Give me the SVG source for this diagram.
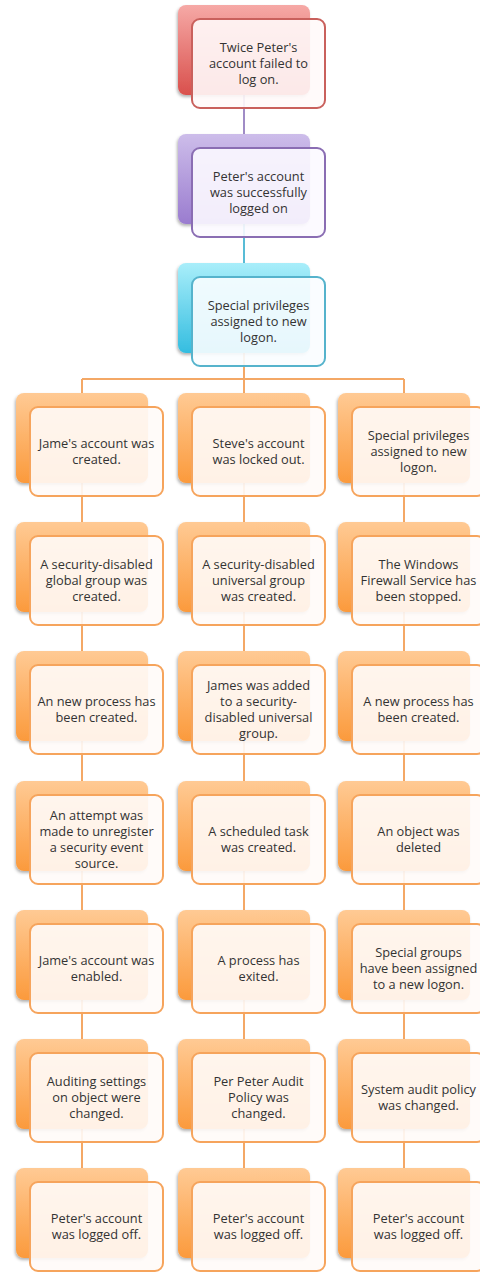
<svg xmlns="http://www.w3.org/2000/svg" width="480" height="1272" viewBox="0 0 480 1272">
  <defs>
    <linearGradient id="gRed" x1="0" y1="0" x2="0" y2="1">
      <stop offset="0" stop-color="#f6a9a6"/>
      <stop offset="1" stop-color="#d9504c"/>
    </linearGradient>
    <linearGradient id="gPurple" x1="0" y1="0" x2="0" y2="1">
      <stop offset="0" stop-color="#cdbdea"/>
      <stop offset="1" stop-color="#9a7ccf"/>
    </linearGradient>
    <linearGradient id="gCyan" x1="0" y1="0" x2="0" y2="1">
      <stop offset="0" stop-color="#a9eefa"/>
      <stop offset="1" stop-color="#34bde0"/>
    </linearGradient>
    <linearGradient id="gOrange" x1="0" y1="0" x2="0" y2="1">
      <stop offset="0" stop-color="#ffca94"/>
      <stop offset="1" stop-color="#fb9a3c"/>
    </linearGradient>
    <filter id="shadow" x="-10%" y="-10%" width="125%" height="130%">
      <feDropShadow dx="-1" dy="2" stdDeviation="1.5" flood-color="#000" flood-opacity="0.3"/>
    </filter>
  </defs>
  <style>
    .back { filter: url(#shadow); }
    .front { fill-opacity: 0.9; stroke-width: 2; }
    .red .back { fill: url(#gRed); }
    .red .front { stroke: #c9605c; fill: #fffafa; }
    .purple .back { fill: url(#gPurple); }
    .purple .front { stroke: #8a6db3; fill: #fcfaff; }
    .cyan .back { fill: url(#gCyan); }
    .cyan .front { stroke: #55b3cc; fill: #f9fdff; }
    .orange .back { fill: url(#gOrange); }
    .orange .front { stroke: #f6a45c; fill: #fffbf8; }
    text { font-family: "Open Sans", "Liberation Sans", sans-serif; font-size: 12.8px; fill: #333333; text-anchor: middle; }
    .conn line, .conn path { fill: none; stroke-width: 2; }
  </style>

  <!-- connectors -->
  <g id="connectors" class="conn">
    <line x1="244" y1="50" x2="244" y2="134" stroke="#a08cc6"/>
    <line x1="244" y1="180" x2="244" y2="263" stroke="#58bcd6"/>
    <path d="M244 308 V379 M82 379 H404 M82 379 V393 M404 379 V393 M244 379 V393" stroke="#f4a866"/>
    <path d="M82 438 V1168 M244 438 V1168 M404 438 V1168" stroke="#f4a866"/>
  </g>

  <!-- top chain -->
  <g id="n-failed" class="red">
    <rect class="back" x="178" y="5" width="132" height="90" rx="8"/>
    <rect class="front" x="192" y="19" width="133" height="89" rx="8"/>
    <text x="258.5"><tspan y="51.5">Twice Peter's</tspan><tspan x="258.5" y="67.5">account failed to</tspan><tspan x="258.5" y="83.5">log on.</tspan></text>
  </g>
  <g id="n-logged-on" class="purple">
    <rect class="back" x="178" y="134" width="132" height="90" rx="8"/>
    <rect class="front" x="192" y="148" width="133" height="89" rx="8"/>
    <text x="258.5"><tspan y="180.5">Peter's account</tspan><tspan x="258.5" y="196.5">was successfully</tspan><tspan x="258.5" y="212.5">logged on</tspan></text>
  </g>
  <g id="n-privileges" class="cyan">
    <rect class="back" x="178" y="263" width="132" height="90" rx="8"/>
    <rect class="front" x="192" y="277" width="133" height="89" rx="8"/>
    <text x="258.5"><tspan y="309.5">Special privileges</tspan><tspan x="258.5" y="325.5">assigned to new</tspan><tspan x="258.5" y="341.5">logon.</tspan></text>
  </g>

  <!-- column 1 -->
  <g id="c1r1" class="orange">
    <rect class="back" x="16" y="393" width="132" height="90" rx="8"/>
    <rect class="front" x="30" y="407" width="133" height="89" rx="8"/>
    <text x="96.5"><tspan y="447.5">Jame's account was</tspan><tspan x="96.5" y="463.5">created.</tspan></text>
  </g>
  <g id="c1r2" class="orange">
    <rect class="back" x="16" y="522" width="132" height="90" rx="8"/>
    <rect class="front" x="30" y="536" width="133" height="89" rx="8"/>
    <text x="96.5"><tspan y="568.5">A security-disabled</tspan><tspan x="96.5" y="584.5">global group was</tspan><tspan x="96.5" y="600.5">created.</tspan></text>
  </g>
  <g id="c1r3" class="orange">
    <rect class="back" x="16" y="651" width="132" height="90" rx="8"/>
    <rect class="front" x="30" y="665" width="133" height="89" rx="8"/>
    <text x="96.5"><tspan y="705.5">An new process has</tspan><tspan x="96.5" y="721.5">been created.</tspan></text>
  </g>
  <g id="c1r4" class="orange">
    <rect class="back" x="16" y="781" width="132" height="90" rx="8"/>
    <rect class="front" x="30" y="795" width="133" height="89" rx="8"/>
    <text x="96.5"><tspan y="819.5">An attempt was</tspan><tspan x="96.5" y="835.5">made to unregister</tspan><tspan x="96.5" y="851.5">a security event</tspan><tspan x="96.5" y="867.5">source.</tspan></text>
  </g>
  <g id="c1r5" class="orange">
    <rect class="back" x="16" y="910" width="132" height="90" rx="8"/>
    <rect class="front" x="30" y="924" width="133" height="89" rx="8"/>
    <text x="96.5"><tspan y="964.5">Jame's account was</tspan><tspan x="96.5" y="980.5">enabled.</tspan></text>
  </g>
  <g id="c1r6" class="orange">
    <rect class="back" x="16" y="1039" width="132" height="90" rx="8"/>
    <rect class="front" x="30" y="1053" width="133" height="89" rx="8"/>
    <text x="96.5"><tspan y="1085.5">Auditing settings</tspan><tspan x="96.5" y="1101.5">on object were</tspan><tspan x="96.5" y="1117.5">changed.</tspan></text>
  </g>
  <g id="c1r7" class="orange">
    <rect class="back" x="16" y="1168" width="132" height="90" rx="8"/>
    <rect class="front" x="30" y="1182" width="133" height="89" rx="8"/>
    <text x="96.5"><tspan y="1222.5">Peter's account</tspan><tspan x="96.5" y="1238.5">was logged off.</tspan></text>
  </g>

  <!-- column 2 -->
  <g id="c2r1" class="orange">
    <rect class="back" x="178" y="393" width="132" height="90" rx="8"/>
    <rect class="front" x="192" y="407" width="133" height="89" rx="8"/>
    <text x="258.5"><tspan y="447.5">Steve's account</tspan><tspan x="258.5" y="463.5">was locked out.</tspan></text>
  </g>
  <g id="c2r2" class="orange">
    <rect class="back" x="178" y="522" width="132" height="90" rx="8"/>
    <rect class="front" x="192" y="536" width="133" height="89" rx="8"/>
    <text x="258.5"><tspan y="568.5">A security-disabled</tspan><tspan x="258.5" y="584.5">universal group</tspan><tspan x="258.5" y="600.5">was created.</tspan></text>
  </g>
  <g id="c2r3" class="orange">
    <rect class="back" x="178" y="651" width="132" height="90" rx="8"/>
    <rect class="front" x="192" y="665" width="133" height="89" rx="8"/>
    <text x="258.5"><tspan y="689.5">James was added</tspan><tspan x="258.5" y="705.5">to a security-</tspan><tspan x="258.5" y="721.5">disabled universal</tspan><tspan x="258.5" y="737.5">group.</tspan></text>
  </g>
  <g id="c2r4" class="orange">
    <rect class="back" x="178" y="781" width="132" height="90" rx="8"/>
    <rect class="front" x="192" y="795" width="133" height="89" rx="8"/>
    <text x="258.5"><tspan y="835.5">A scheduled task</tspan><tspan x="258.5" y="851.5">was created.</tspan></text>
  </g>
  <g id="c2r5" class="orange">
    <rect class="back" x="178" y="910" width="132" height="90" rx="8"/>
    <rect class="front" x="192" y="924" width="133" height="89" rx="8"/>
    <text x="258.5"><tspan y="964.5">A process has</tspan><tspan x="258.5" y="980.5">exited.</tspan></text>
  </g>
  <g id="c2r6" class="orange">
    <rect class="back" x="178" y="1039" width="132" height="90" rx="8"/>
    <rect class="front" x="192" y="1053" width="133" height="89" rx="8"/>
    <text x="258.5"><tspan y="1085.5">Per Peter Audit</tspan><tspan x="258.5" y="1101.5">Policy was</tspan><tspan x="258.5" y="1117.5">changed.</tspan></text>
  </g>
  <g id="c2r7" class="orange">
    <rect class="back" x="178" y="1168" width="132" height="90" rx="8"/>
    <rect class="front" x="192" y="1182" width="133" height="89" rx="8"/>
    <text x="258.5"><tspan y="1222.5">Peter's account</tspan><tspan x="258.5" y="1238.5">was logged off.</tspan></text>
  </g>

  <!-- column 3 -->
  <g id="c3r1" class="orange">
    <rect class="back" x="338" y="393" width="132" height="90" rx="8"/>
    <rect class="front" x="352" y="407" width="133" height="89" rx="8"/>
    <text x="418.5"><tspan y="439.5">Special privileges</tspan><tspan x="418.5" y="455.5">assigned to new</tspan><tspan x="418.5" y="471.5">logon.</tspan></text>
  </g>
  <g id="c3r2" class="orange">
    <rect class="back" x="338" y="522" width="132" height="90" rx="8"/>
    <rect class="front" x="352" y="536" width="133" height="89" rx="8"/>
    <text x="418.5"><tspan y="568.5">The Windows</tspan><tspan x="418.5" y="584.5">Firewall Service has</tspan><tspan x="418.5" y="600.5">been stopped.</tspan></text>
  </g>
  <g id="c3r3" class="orange">
    <rect class="back" x="338" y="651" width="132" height="90" rx="8"/>
    <rect class="front" x="352" y="665" width="133" height="89" rx="8"/>
    <text x="418.5"><tspan y="705.5">A new process has</tspan><tspan x="418.5" y="721.5">been created.</tspan></text>
  </g>
  <g id="c3r4" class="orange">
    <rect class="back" x="338" y="781" width="132" height="90" rx="8"/>
    <rect class="front" x="352" y="795" width="133" height="89" rx="8"/>
    <text x="418.5"><tspan y="835.5">An object was</tspan><tspan x="418.5" y="851.5">deleted</tspan></text>
  </g>
  <g id="c3r5" class="orange">
    <rect class="back" x="338" y="910" width="132" height="90" rx="8"/>
    <rect class="front" x="352" y="924" width="133" height="89" rx="8"/>
    <text x="418.5"><tspan y="956.5">Special groups</tspan><tspan x="418.5" y="972.5">have been assigned</tspan><tspan x="418.5" y="988.5">to a new logon.</tspan></text>
  </g>
  <g id="c3r6" class="orange">
    <rect class="back" x="338" y="1039" width="132" height="90" rx="8"/>
    <rect class="front" x="352" y="1053" width="133" height="89" rx="8"/>
    <text x="418.5"><tspan y="1093.5">System audit policy</tspan><tspan x="418.5" y="1109.5">was changed.</tspan></text>
  </g>
  <g id="c3r7" class="orange">
    <rect class="back" x="338" y="1168" width="132" height="90" rx="8"/>
    <rect class="front" x="352" y="1182" width="133" height="89" rx="8"/>
    <text x="418.5"><tspan y="1222.5">Peter's account</tspan><tspan x="418.5" y="1238.5">was logged off.</tspan></text>
  </g>
</svg>
